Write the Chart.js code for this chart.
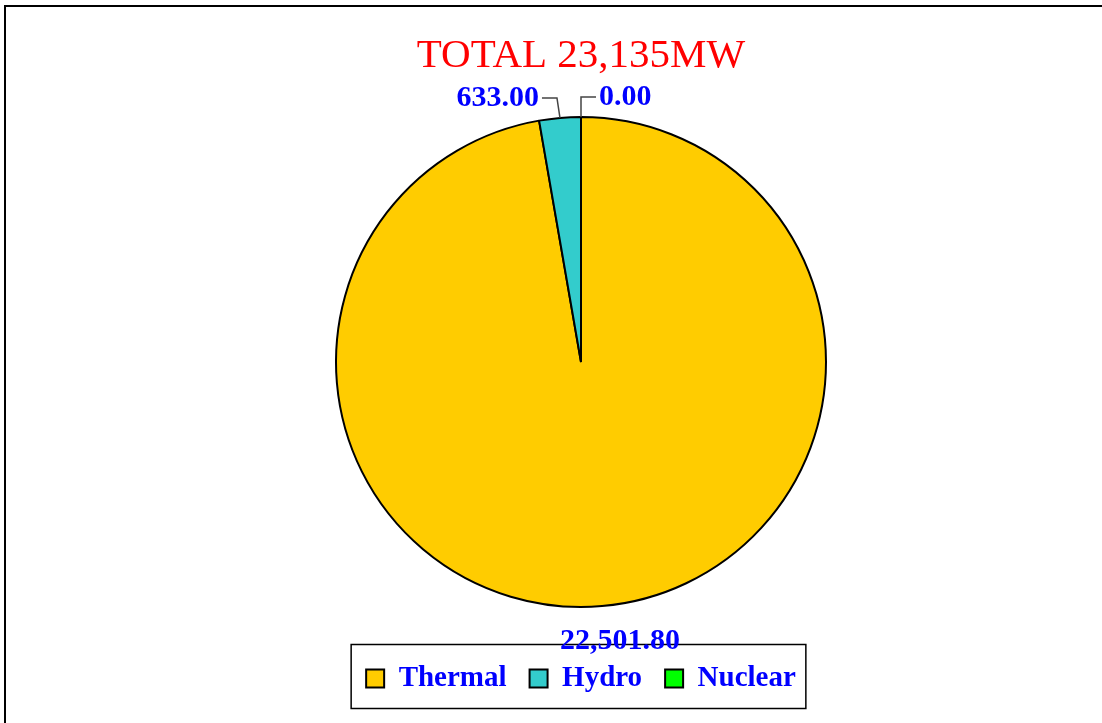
<!DOCTYPE html>
<html>
<head>
<meta charset="utf-8">
<script src="https://cdn.jsdelivr.net/npm/chart.js@4"></script>
<style>
  html, body { margin: 0; padding: 0; background: #fff; }
  #wrap { width: 1102px; height: 723px; }
</style>
</head>
<body>
<div id="wrap"><canvas id="pie" width="1102" height="723"></canvas></div>
<script>
// --- Datos ---
const CATEGORIES = ['Thermal', 'Hydro', 'Nuclear'];
const CAPACITY_MW = [22501.80, 633.00, 0.00];
const SLICE_COLORS = ['#FFCC00', '#33CCCC', '#00FF00'];
const TITLE_TEXT = 'TOTAL 23,135MW';

const SERIF = '"Liberation Serif", "Times New Roman", serif';
const fmt = v => v.toLocaleString('en-US', { minimumFractionDigits: 2, maximumFractionDigits: 2 });

// where each value label goes: 'below' (big slice), 'left' / 'right' with an elbow leader
const LABEL_SIDE = ['below', 'left', 'right'];

const pieLabels = {
  id: 'pieLabels',
  afterDraw(chart) {
    const ctx = chart.ctx;
    const arcs = chart.getDatasetMeta(0).data;
    ctx.save();

    // outer frame (runs off the right / bottom edge)
    ctx.strokeStyle = '#000';
    ctx.lineWidth = 2;
    ctx.strokeRect(5, 6, 1200, 800);

    // box round the legend
    const hb = chart.legend.legendHitBoxes;
    if (hb && hb.length) {
      const left = Math.min(...hb.map(h => h.left)) - 15;
      const right = Math.max(...hb.map(h => h.left + h.width)) + 10;
      const cy = hb[0].top + hb[0].height / 2;
      ctx.lineWidth = 1.5;
      ctx.strokeRect(left, cy - 34, right - left, 64);
    }

    // value labels
    ctx.font = 'bold 30px ' + SERIF;
    ctx.fillStyle = '#0000FF';
    ctx.textBaseline = 'middle';
    arcs.forEach((arc, i) => {
      const p = arc.getProps(['x', 'y', 'startAngle', 'endAngle', 'outerRadius'], true);
      const mid = (p.startAngle + p.endAngle) / 2;
      const ex = p.x + Math.cos(mid) * p.outerRadius;
      const ey = p.y + Math.sin(mid) * p.outerRadius;
      const text = fmt(CAPACITY_MW[i]);
      const side = LABEL_SIDE[i];
      if (side === 'below') {
        ctx.textAlign = 'center';
        ctx.fillText(text, ex + 18, ey + 35);
        return;
      }
      const ly = ey - 20;
      const dir = side === 'left' ? -1 : 1;
      const kx = side === 'left' ? ex - 3 : ex;
      ctx.strokeStyle = '#444';
      ctx.lineWidth = 1.5;
      ctx.beginPath();
      ctx.moveTo(ex, ey);
      ctx.lineTo(kx, ly);
      ctx.lineTo(kx + dir * 15, ly);
      ctx.stroke();
      ctx.textAlign = side === 'left' ? 'right' : 'left';
      ctx.fillText(text, kx + dir * 18, ly);
    });
    ctx.restore();
  }
};

new Chart(document.getElementById('pie'), {
  type: 'pie',
  data: {
    labels: CATEGORIES,
    datasets: [{
      data: CAPACITY_MW,
      backgroundColor: SLICE_COLORS,
      borderColor: '#000',
      borderWidth: 2,
      radius: 245
    }]
  },
  options: {
    responsive: false,
    animation: false,
    layout: { padding: { top: 0, bottom: 20, left: 100, right: 40 } },
    plugins: {
      tooltip: { enabled: false },
      title: {
        display: true,
        text: TITLE_TEXT,
        color: '#FF0000',
        font: { family: SERIF, size: 41, weight: 'normal', lineHeight: 1 },
        padding: { top: 36, bottom: 6 }
      },
      legend: {
        position: 'bottom',
        labels: {
          color: '#0000FF',
          font: { family: SERIF, size: 29, weight: 'bold' },
          boxWidth: 18,
          boxHeight: 18,
          padding: 23
        }
      }
    }
  },
  plugins: [pieLabels]
});
</script>
</body>
</html>
